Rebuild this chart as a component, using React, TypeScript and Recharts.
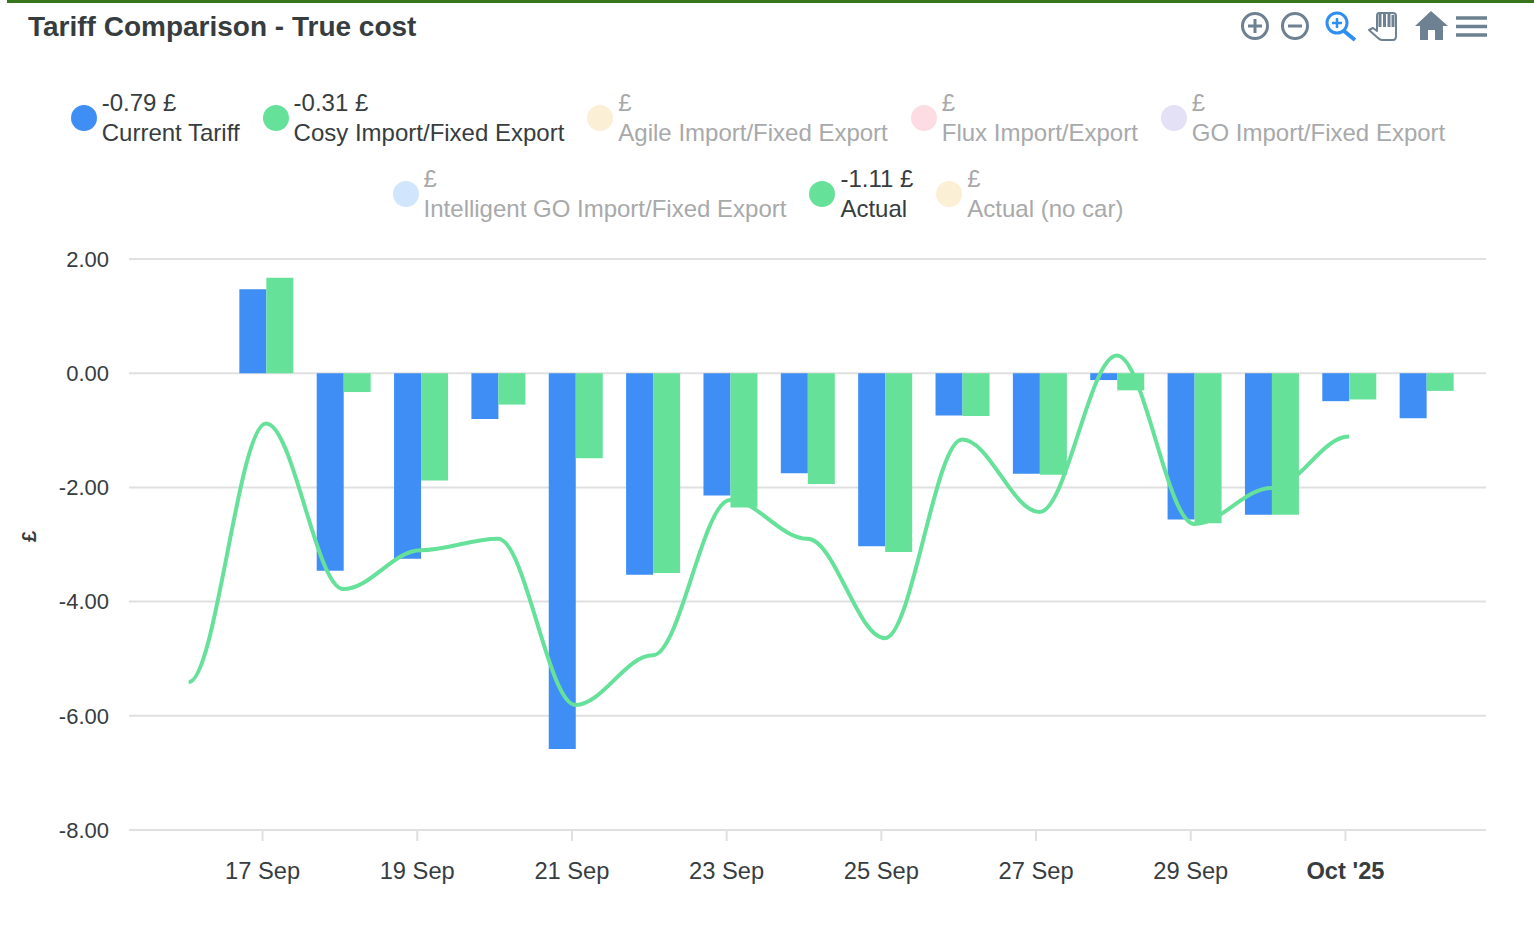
import { ComposedChart, Bar, Line, XAxis, YAxis, CartesianGrid } from "recharts"

const days = [
  "16 Sep", "17 Sep", "18 Sep", "19 Sep", "20 Sep", "21 Sep", "22 Sep", "23 Sep", "24 Sep",
  "25 Sep", "26 Sep", "27 Sep", "28 Sep", "29 Sep", "30 Sep", "1 Oct", "2 Oct",
]
const currentTariff = [
  null, 1.47, -3.46, -3.25, -0.8, -6.58, -3.53, -2.14, -1.75, -3.03, -0.74, -1.76, -0.12, -2.56, -2.48, -0.49, -0.79,
]
const cosyImport = [
  null, 1.67, -0.33, -1.88, -0.55, -1.49, -3.5, -2.35, -1.94, -3.13, -0.75, -1.78, -0.3, -2.63, -2.48, -0.46, -0.31,
]
const actual = [
  -5.41, -0.88, -3.78, -3.1, -2.9, -5.81, -4.94, -2.22, -2.9, -4.64, -1.16, -2.43, 0.31, -2.64, -2.01, -1.11, null,
]
const xTicks = ["17 Sep", "19 Sep", "21 Sep", "23 Sep", "25 Sep", "27 Sep", "29 Sep", "1 Oct"]
const yTicks = [2, 0, -2, -4, -6, -8]

const legendNames = [
  "Current Tariff", "Cosy Import/Fixed Export", "Agile Import/Fixed Export", "Flux Import/Export",
  "GO Import/Fixed Export", "Intelligent GO Import/Fixed Export", "Actual", "Actual (no car)",
]
const legendValues = ["-0.79 £", "-0.31 £", "£", "£", "£", "£", "-1.11 £", "£"]
const legendColors = ["#3f8ef5", "#66e19a", "#fbf0d5", "#fddde3", "#e4e0f5", "#d1e6fc", "#66e19a", "#fbf0d5"]
const legendActive = [true, true, false, false, false, false, true, false]

const data = days.map((day, i) => ({
  day,
  current: currentTariff[i],
  cosy: cosyImport[i],
  actual: actual[i],
}))

const FONT = "'Liberation Sans', Arial, sans-serif"
const INK = "#373d3f"
const GRID = "#e0e0e0"
const ICON = "#6e8192"

// flat tangent at every point, control handles at 35% of the step
const flatSpline = (ctx: any) => {
  let started = false
  let px = 0
  let py = 0
  return {
    areaStart() {},
    areaEnd() {},
    lineStart() {
      started = false
    },
    lineEnd() {},
    point(a: number, b: number) {
      const x = +a
      const y = +b
      if (!started) {
        ctx.moveTo(x, y)
        started = true
      } else {
        const dx = (x - px) * 0.35
        ctx.bezierCurveTo(px + dx, py, x - dx, y, x, y)
      }
      px = x
      py = y
    },
  }
}

// tick marks sit a little left of the bar groups in the original
function DayTick({ x, y, payload }: any) {
  const oct = payload.value === "1 Oct"
  return (
    <g>
      <line x1={x - 3.5} x2={x - 3.5} y1={y - 8} y2={y + 3} stroke={GRID} strokeWidth={2} />
      <text
        x={x - 3.5}
        y={y + 41}
        textAnchor="middle"
        fontFamily={FONT}
        fontSize={23.7}
        fontWeight={oct ? 700 : 400}
        fill={INK}
      >
        {oct ? "Oct '25" : payload.value}
      </text>
    </g>
  )
}

function PoundLabel({ viewBox }: any) {
  const cx = viewBox.x + 29
  const cy = viewBox.y + viewBox.height / 2 - 8
  return (
    <text
      x={cx}
      y={cy}
      transform={`rotate(-90 ${cx} ${cy})`}
      textAnchor="middle"
      dominantBaseline="central"
      fontFamily={FONT}
      fontSize={20}
      fontWeight={700}
      fill={INK}
    >
      £
    </text>
  )
}

function Toolbar() {
  return (
    <svg width={1534} height={60} style={{ position: "absolute", left: 0, top: 0 }}>
      <g fill="none" stroke={ICON} strokeWidth={3}>
        <circle cx={1255} cy={26} r={12.5} />
        <path d="M1248 26h14M1255 19v14" />
        <circle cx={1295} cy={26} r={12.5} />
        <path d="M1288 26h14" />
      </g>
      <g fill="none" stroke="#2f8ff0" strokeWidth={3}>
        <circle cx={1337} cy={23} r={10} />
        <path d="M1332 23h10M1337 18v10" strokeWidth={2.5} />
        <path d="M1344 31l11 9" strokeWidth={4} />
      </g>
      <path
        d="M1369 30l4 -2l4 3v-15q0 -3 2 -3h14q3 0 3 3v20q0 4 -3 4h-11q-2 0 -4 -2z"
        fill="#fff"
        stroke={ICON}
        strokeWidth={2}
        strokeLinejoin="round"
      />
      <path d="M1380 14v13M1384.500 13v14M1389 13v14M1393 15v12" stroke={ICON} strokeWidth={3} />
      <path d="M1415 26l16 -15l17 15h-5v14h-8v-10h-7v10h-8v-14z" fill={ICON} />
      <path d="M1456 18h31M1456 26.500h31M1456 35h31" stroke={ICON} strokeWidth={3.500} />
    </svg>
  )
}

function ChartLegend() {
  return (
    <div
      style={{
        position: "absolute",
        left: 58,
        top: 88,
        width: 1400,
        display: "flex",
        flexWrap: "wrap",
        justifyContent: "center",
        columnGap: 23,
        rowGap: 16,
        fontFamily: FONT,
        fontSize: 24,
        lineHeight: "30px",
      }}
    >
      {legendNames.map((name, i) => (
        <div key={name} style={{ display: "flex", alignItems: "center", color: legendActive[i] ? INK : "#a8a9aa" }}>
          <span
            style={{ width: 26, height: 26, borderRadius: "50%", background: legendColors[i], marginRight: 5 }}
          />
          <div>
            <div>{legendValues[i]}</div>
            <div>{name}</div>
          </div>
        </div>
      ))}
    </div>
  )
}

export default function App() {
  return (
    <div style={{ position: "absolute", left: 0, top: 0, width: 1534, height: 935, background: "#fff" }}>
      <div style={{ position: "absolute", left: 7, right: 0, top: 0, height: 3, background: "#38761d" }} />
      <div
        style={{
          position: "absolute",
          left: 28,
          top: 10,
          fontFamily: FONT,
          fontSize: 28,
          fontWeight: 700,
          lineHeight: "34px",
          color: INK,
        }}
      >
        Tariff Comparison - True cost
      </div>
      <Toolbar />
      <ChartLegend />
      <ComposedChart
        width={1534}
        height={935}
        data={data}
        barGap={0}
        margin={{ top: 259, right: 48, bottom: 0, left: 0 }}
      >
        <CartesianGrid vertical={false} stroke={GRID} strokeWidth={2} />
        <XAxis
          dataKey="day"
          ticks={xTicks}
          interval={0}
          height={105}
          padding={{ left: 21, right: 21 }}
          axisLine={{ stroke: GRID, strokeWidth: 2 }}
          tickLine={false}
          tick={<DayTick />}
        />
        <YAxis
          width={129}
          domain={[-8, 2]}
          ticks={yTicks}
          interval={0}
          axisLine={false}
          tickLine={false}
          tickSize={0}
          tickMargin={20}
          tickFormatter={(v: number) => v.toFixed(2)}
          tick={{ fontFamily: FONT, fontSize: 22, fill: INK }}
          label={<PoundLabel />}
        />
        <Bar dataKey="current" fill="#3f8ef5" barSize={27} isAnimationActive={false} />
        <Bar dataKey="cosy" fill="#66e19a" barSize={27} isAnimationActive={false} />
        <Line
          dataKey="actual"
          type={flatSpline as any}
          stroke="#66e19a"
          strokeWidth={4}
          dot={false}
          activeDot={false}
          isAnimationActive={false}
        />
      </ComposedChart>
    </div>
  )
}
